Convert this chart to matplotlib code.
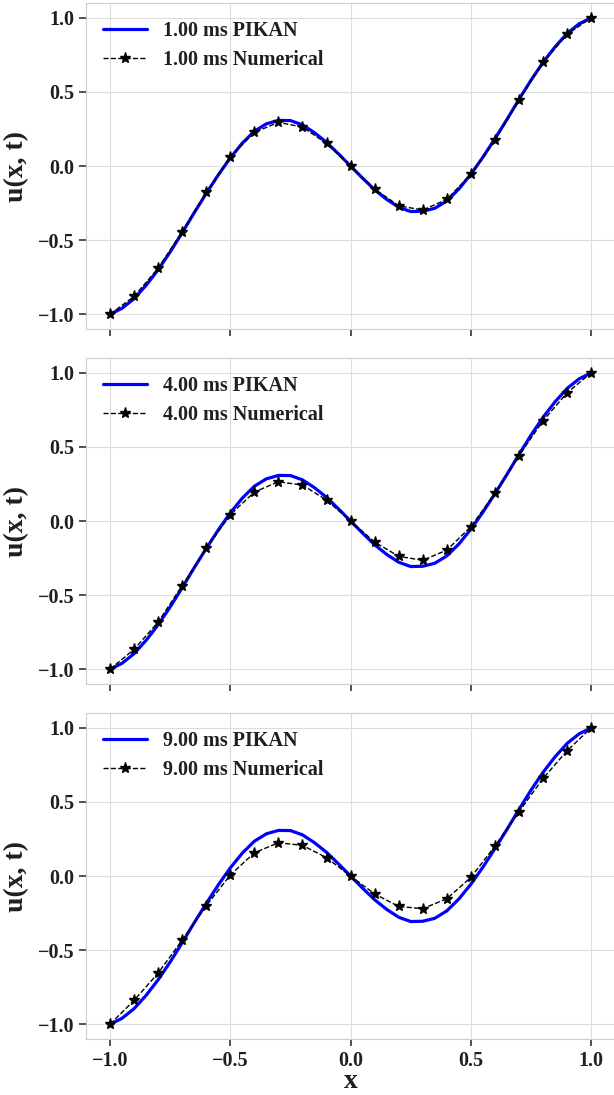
import matplotlib
matplotlib.use("Agg")
import matplotlib.pyplot as plt
import seaborn as sns

# x grid of the PIKAN prediction (same curve in every panel)
x_fine = [-1.0, -0.95, -0.9, -0.85, -0.8, -0.75, -0.7, -0.65, -0.6, -0.55, -0.5,
          -0.45, -0.4, -0.35, -0.3, -0.25, -0.2, -0.15, -0.1, -0.05, 0.0,
          0.05, 0.1, 0.15, 0.2, 0.25, 0.3, 0.35, 0.4, 0.45, 0.5,
          0.55, 0.6, 0.65, 0.7, 0.75, 0.8, 0.85, 0.9, 0.95, 1.0]
pikan_u = [-1.0, -0.96, -0.895, -0.805, -0.70, -0.58, -0.45, -0.315, -0.185, -0.06, 0.055,
           0.155, 0.235, 0.285, 0.308, 0.307, 0.278, 0.225, 0.16, 0.082, 0.0,
           -0.082, -0.16, -0.225, -0.278, -0.307, -0.305, -0.285, -0.235, -0.155, -0.055,
           0.06, 0.185, 0.315, 0.45, 0.58, 0.70, 0.805, 0.895, 0.96, 1.0]

# numerical solution points
x_num = [-1.0, -0.9, -0.8, -0.7, -0.6, -0.5, -0.4, -0.3, -0.2, -0.1, 0.0,
         0.1, 0.2, 0.3, 0.4, 0.5, 0.6, 0.7, 0.8, 0.9, 1.0]
num_1ms = [-1.0, -0.88, -0.69, -0.443, -0.178, 0.063, 0.227, 0.295, 0.263, 0.153, 0.0,
           -0.155, -0.268, -0.297, -0.225, -0.056, 0.173, 0.446, 0.70, 0.889, 1.0]
num_4ms = [-1.0, -0.866, -0.682, -0.436, -0.184, 0.043, 0.196, 0.265, 0.243, 0.142, 0.0,
           -0.142, -0.238, -0.265, -0.196, -0.038, 0.187, 0.441, 0.677, 0.866, 1.0]
num_9ms = [-1.0, -0.839, -0.655, -0.432, -0.200, 0.007, 0.157, 0.225, 0.207, 0.124, 0.0,
           -0.121, -0.205, -0.220, -0.153, -0.009, 0.202, 0.434, 0.659, 0.846, 1.0]

times = ["1.00", "4.00", "9.00"]
numerical = [num_1ms, num_4ms, num_9ms]
yticks = [-1.0, -0.5, 0.0, 0.5, 1.0]
xticks = [-1.0, -0.5, 0.0, 0.5, 1.0]

sns.set_style("whitegrid")
plt.rcParams["font.family"] = ["Liberation Serif", "DejaVu Serif"]
plt.rcParams["font.weight"] = "bold"
plt.rcParams["axes.edgecolor"] = "#cccccc"
plt.rcParams["grid.color"] = "#dcdcdc"

TXT = "#1f1f1f"
fig = plt.figure(figsize=(6.14, 10.95), dpi=100)
bottoms = [0.6995, 0.3753, 0.0511]

for i, (t, num, b) in enumerate(zip(times, numerical, bottoms)):
    ax = fig.add_axes([0.140, b, 0.862, 0.2977])
    ax.plot(x_fine, pikan_u, color="#0000ff", lw=2.3, label=f"{t} ms PIKAN")
    ax.plot(x_num, num, color="black", ls="--", lw=1.0, marker="*", ms=8,
            label=f"{t} ms Numerical")
    ax.set_xlim(-1.1, 1.1)
    ax.set_ylim(-1.1, 1.1)
    ax.set_xticks(xticks)
    ax.set_yticks(yticks)
    ax.tick_params(axis="both", which="major", direction="out", length=5, width=1.2,
                   color="#333333", labelsize=14.5, labelcolor=TXT, bottom=True, left=True)
    for lab in ax.get_xticklabels() + ax.get_yticklabels():
        lab.set_fontweight("bold")
    ax.spines["right"].set_visible(False)
    ax.set_ylabel("u(x, t)", fontsize=20, fontweight="bold", color=TXT, labelpad=6)
    if i < 2:
        ax.tick_params(axis="x", labelbottom=False)
    else:
        ax.set_xlabel("x", fontsize=20, fontweight="bold", color=TXT, labelpad=-1)
    leg = ax.legend(loc="upper left", bbox_to_anchor=(0.006, 0.987), frameon=False,
                    fontsize=14.5, handlelength=2.15, borderaxespad=0.3, labelspacing=0.42)
    for txt in leg.get_texts():
        txt.set_color(TXT)
        txt.set_fontweight("bold")

fig.savefig("out.png", dpi=100)
